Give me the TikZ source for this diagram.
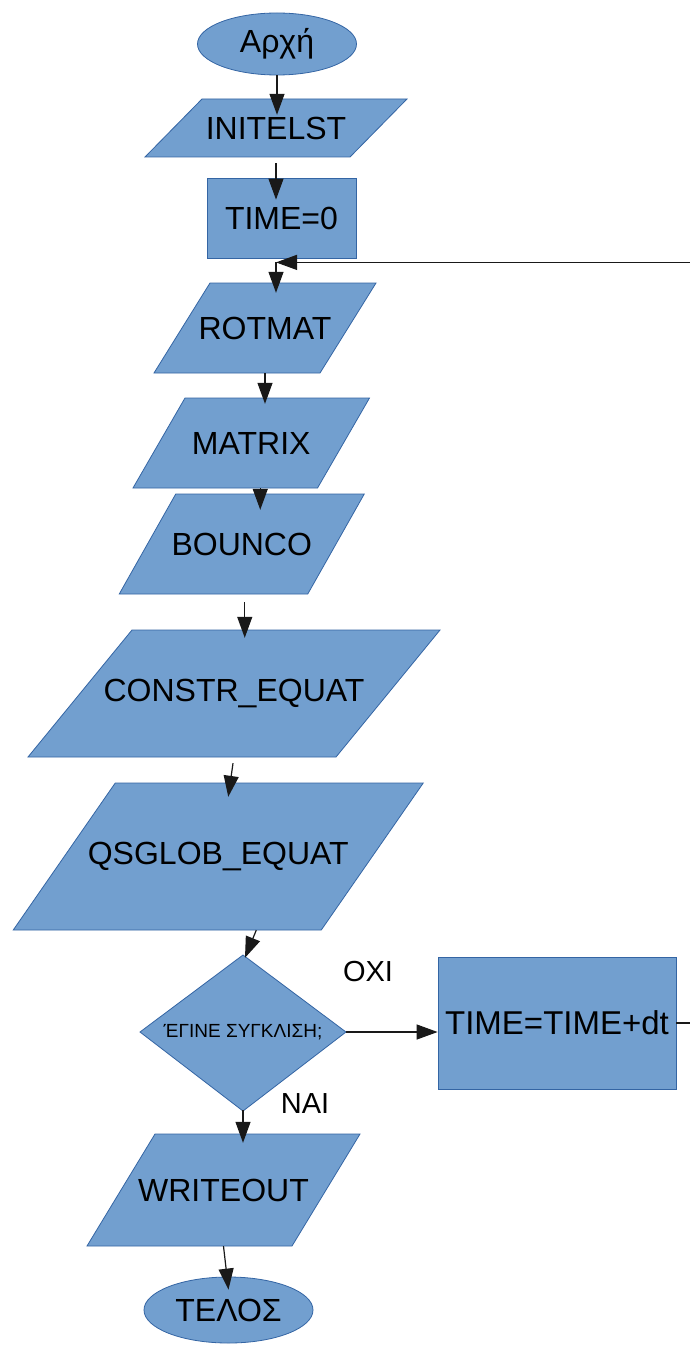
\documentclass[tikz,border=0pt]{standalone}
\usepackage{fontspec}
\setmainfont{Liberation Sans}
\usetikzlibrary{shapes.geometric,arrows.meta,calc}
\definecolor{shapefill}{HTML}{729FCF}
\definecolor{shapeborder}{HTML}{3465A4}
\tikzset{
  shp/.style={fill=shapefill,draw=shapeborder,line width=0.8pt},
  lbl/.style={inner sep=0pt,text=black,font=\fontsize{32}{38}\selectfont},
  term/.style={shape=ellipse,fill=shapefill,draw=shapeborder,line width=0.8pt,inner sep=0pt,text=black,font=\fontsize{32}{38}\selectfont},
  boxnode/.style={shape=rectangle,fill=shapefill,draw=shapeborder,line width=0.8pt,inner sep=0pt,text=black,font=\fontsize{32}{38}\selectfont},
  arr/.style={line width=1.2pt,draw=black!90,-{Triangle[length=21pt,width=15pt]}},
  answer/.style={inner sep=0pt,text=black,font=\fontsize{29}{34}\selectfont}
}
% name, cx, cy, side width, height, slant, text
\newcommand{\pgram}[7]{%
  \filldraw[shp] ({#2-#4/2+#6/2},{#3-#5/2}) -- ({#2+#4/2+#6/2},{#3-#5/2}) --
    ({#2+#4/2-#6/2},{#3+#5/2}) -- ({#2-#4/2-#6/2},{#3+#5/2}) -- cycle;
  \node[lbl,minimum width=#4pt,minimum height=#5pt] (#1) at (#2,#3) {#7};
}
\begin{document}
\begin{tikzpicture}[x=1pt,y=-1pt]
\useasboundingbox (0,0) rectangle (690,1348);
\fill[white] (0,0) rectangle (690,1348);

% shapes
\node[term,minimum width=159pt,minimum height=62pt] (start) at (277,44) {Αρχή};
\pgram{ini}{276}{128}{205}{58}{57}{INITELST}
\node[boxnode,minimum width=149pt,minimum height=80pt] (t0) at (281.5,218) {TIME=0};
\pgram{rot}{265}{328}{166}{90}{56}{ROTMAT}
\pgram{mat}{251.25}{443}{184.5}{90}{52}{MATRIX}
\pgram{bou}{241.75}{544}{188.5}{100}{56.5}{BOUNCO}
\pgram{con}{234}{693.5}{308}{127}{104}{CONSTR\_EQUAT}
\pgram{qsg}{218.25}{856.5}{308}{147}{102}{QSGLOB\_EQUAT}
% decision diamond
\filldraw[shp] (243,955) -- (346,1032) -- (243,1111) -- (140,1032) -- cycle;
\node[inner sep=0pt,minimum width=206pt,minimum height=156pt,text=black,
      font=\fontsize{19}{22}\selectfont] (dec) at (243,1032)
      {ΈΓΙΝΕ ΣΥΓΚΛΙΣΗ;};
\node[boxnode,minimum width=238pt,minimum height=132pt,
      font=\fontsize{33}{39}\selectfont] (tdt) at (557,1023) {TIME=TIME+dt};
\pgram{wri}{223.5}{1190}{205}{112}{68}{WRITEOUT}
\node[term,minimum width=169pt,minimum height=66pt] (endn) at (228.5,1310) {ΤΕΛΟΣ};

% labels
\node[answer] (oxi) at (368,972) {ΟΧΙ};
\node[answer] (nai) at (305,1104) {ΝΑΙ};

% connectors
\coordinate (t0c) at ($(t0.south)+(-5.5,4)$);
\coordinate (loopc) at (692,1023);
\draw[arr] (start.south) -- ($(start.south |- ini.north)+(0,16)$);
\draw[arr] ($(ini.south)+(0,6)$) -- ($(ini.south |- t0.north)+(0,22)$);
\draw[arr] (t0c) -- ($(t0c |- rot.north)+(0,10)$);
\draw[arr] (rot.south) -- ($(rot.south |- mat.north)+(0,6)$);
\draw[arr] ($(mat.south)+(9,0)$) -- ($(mat.south |- bou.north)+(9,16)$);
\draw[arr] ($(bou.south)+(3,8)$) -- ($(bou.south |- con.north)+(3,8)$);
\draw[arr] ($(con.south)+(-1,6)$) -- ($(qsg.north)+(10,14)$);
\draw[arr] ($(qsg.south)+(38,0)$) -- ($(dec.north)+(2,4)$);
\draw[arr] (dec.east) -- (dec.east -| tdt.west);
\draw[arr] (dec.south) -- ($(dec.south |- wri.north)+(0,9)$);
\draw[arr] (wri.south) -- ($(endn.north)+(0,13)$);
\draw[arr] (tdt.east) -- (loopc) |- (t0c);
\end{tikzpicture}
\end{document}
